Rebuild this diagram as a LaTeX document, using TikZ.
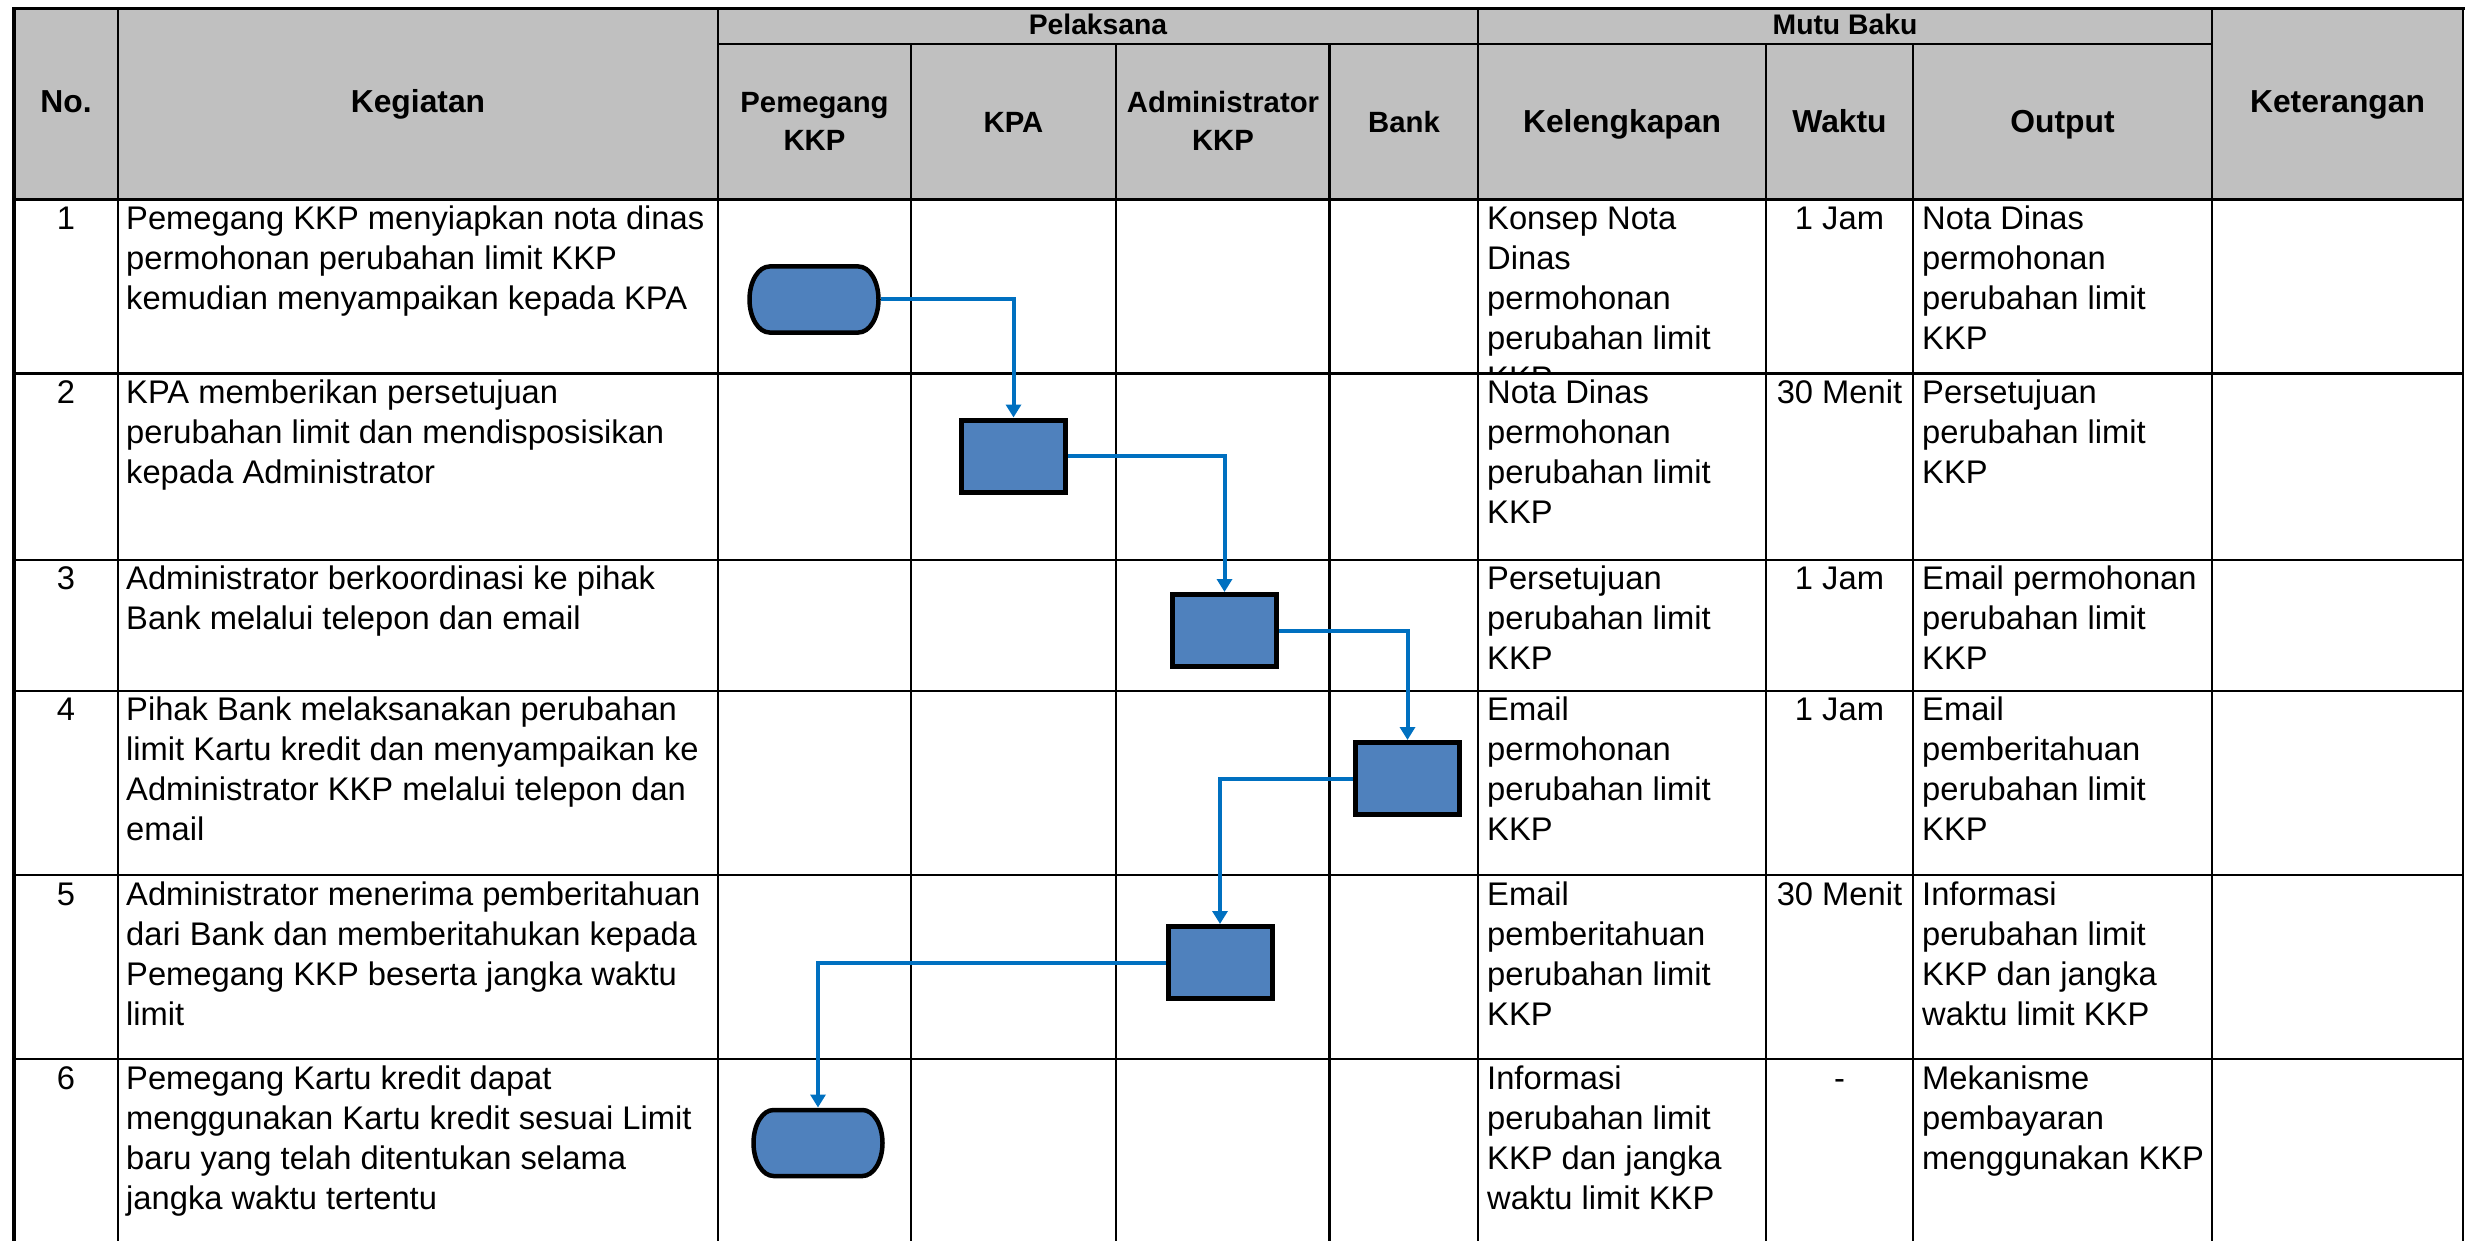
\documentclass[tikz,border=0pt]{standalone}
\usepackage{fontspec}
\setmainfont{Liberation Sans}
\usetikzlibrary{arrows.meta,calc}
\definecolor{hdrgray}{HTML}{C0C0C0}
\definecolor{boxblue}{HTML}{4F81BD}
\definecolor{flowblue}{HTML}{0070C0}
\newcommand\celllines[1]{\parbox[t]{700pt}{\raggedright #1}}
\newcommand\hdrlines[2]{\parbox[t]{#1}{\centering #2}}
\newcommand\termdraw[1]{\draw[termshape] ($(#1.center)+(-44.5pt,33pt)$) -- ($(#1.center)+(44.5pt,33pt)$) arc[start angle=90,end angle=-90,x radius=20pt,y radius=33pt] -- ($(#1.center)+(-44.5pt,-33pt)$) arc[start angle=270,end angle=90,x radius=20pt,y radius=33pt] -- cycle;}
\tikzset{
  gridline/.style={line width=2.8pt, black, line cap=rect},
  outerline/.style={line width=3.5pt, black, line cap=rect},
  hdr/.style={font=\fontsize{31.8}{38}\selectfont\bfseries, inner sep=0pt, anchor=base},
  hdrs/.style={font=\fontsize{29.3}{38}\selectfont\bfseries, inner sep=0pt, anchor=base},
  hdrt/.style={font=\fontsize{28.3}{38}\selectfont\bfseries, inner sep=0pt, anchor=base},
  body/.style={font=\fontsize{32.7}{40}\selectfont, inner sep=0pt, anchor=base west},
  num/.style={font=\fontsize{32.7}{40}\selectfont, inner sep=0pt, anchor=base},
  procbox/.style={rectangle, draw=black, line width=5pt, fill=boxblue, minimum width=104pt, minimum height=72pt, inner sep=0pt},
  termnode/.style={rectangle, draw=none, minimum width=134pt, minimum height=71pt, inner sep=0pt, outer sep=0pt},
  termshape/.style={draw=black, line width=4.5pt, fill=boxblue},
  flow/.style={draw=flowblue, line width=4pt, -{Triangle[width=15pt,length=13pt]}},
}
\begin{document}
\begin{tikzpicture}[x=1pt,y=-1pt]
\useasboundingbox (0,0) rectangle (2476,1241);
% header background
\fill[hdrgray] (14,8.5) rectangle (2463,199.5);

% header texts
\node[hdr] (hno) at (66,113) {No.};
\node[hdr] (hkeg) at (418,113) {Kegiatan};
\node[hdr] (hket) at (2337.5,113) {Keterangan};
\node[hdrt] (hpel) at (1098,35) {Pelaksana};
\node[hdrt] (hmutu) at (1845,35) {Mutu Baku};
\node[hdrs] (hpem) at (814.5,113) {\hdrlines{190pt}{Pemegang\\KKP}};
\node[hdrs] (hkpa) at (1013.5,133) {KPA};
\node[hdrs] (hadm) at (1223,113) {\hdrlines{210pt}{Administrator\\KKP}};
\node[hdrs] (hbank) at (1404,133) {Bank};
\node[hdr] (hkel) at (1622,133) {Kelengkapan};
\node[hdr] (hwak) at (1839.5,133) {Waktu};
\node[hdr] (hout) at (2062.5,133) {Output};

% row 1
\node[num] (n1) at (66,230) {1};
\node[body] (k1) at (126,230) {\celllines{Pemegang KKP menyiapkan nota dinas\\permohonan perubahan limit KKP\\kemudian menyampaikan kepada KPA}};
\begin{scope}
\clip (1478,199.5) rectangle (1766,373.5);
\node[body] (l1) at (1487,230) {\celllines{Konsep Nota\\Dinas\\permohonan\\perubahan limit\\KKP}};
\end{scope}
\node[num] (w1) at (1839.5,230) {1 Jam};
\node[body] (o1) at (1922,230) {\celllines{Nota Dinas\\permohonan\\perubahan limit\\KKP}};

% row 2
\node[num] (n2) at (66,403) {2};
\node[body] (k2) at (126,403) {\celllines{KPA memberikan persetujuan\\perubahan limit dan mendisposisikan\\kepada Administrator}};
\node[body] (l2) at (1487,403) {\celllines{Nota Dinas\\permohonan\\perubahan limit\\KKP}};
\node[num] (w2) at (1839.5,403) {30 Menit};
\node[body] (o2) at (1922,403) {\celllines{Persetujuan\\perubahan limit\\KKP}};

% row 3
\node[num] (n3) at (66,589) {3};
\node[body] (k3) at (126,589) {\celllines{Administrator berkoordinasi ke pihak\\Bank melalui telepon dan email}};
\node[body] (l3) at (1487,589) {\celllines{Persetujuan\\perubahan limit\\KKP}};
\node[num] (w3) at (1839.5,589) {1 Jam};
\node[body] (o3) at (1922,589) {\celllines{Email permohonan\\perubahan limit\\KKP}};

% row 4
\node[num] (n4) at (66,720) {4};
\node[body] (k4) at (126,720) {\celllines{Pihak Bank melaksanakan perubahan\\limit Kartu kredit dan menyampaikan ke\\Administrator KKP melalui telepon dan\\email}};
\node[body] (l4) at (1487,720) {\celllines{Email\\permohonan\\perubahan limit\\KKP}};
\node[num] (w4) at (1839.5,720) {1 Jam};
\node[body] (o4) at (1922,720) {\celllines{Email\\pemberitahuan\\perubahan limit\\KKP}};

% row 5
\node[num] (n5) at (66,905) {5};
\node[body] (k5) at (126,905) {\celllines{Administrator menerima pemberitahuan\\dari Bank dan memberitahukan kepada\\Pemegang KKP beserta jangka waktu\\limit}};
\node[body] (l5) at (1487,905) {\celllines{Email\\pemberitahuan\\perubahan limit\\KKP}};
\node[num] (w5) at (1839.5,905) {30 Menit};
\node[body] (o5) at (1922,905) {\celllines{Informasi\\perubahan limit\\KKP dan jangka\\waktu limit KKP}};

% row 6
\node[num] (n6) at (66,1089) {6};
\node[body] (k6) at (126,1089) {\celllines{Pemegang Kartu kredit dapat\\menggunakan Kartu kredit sesuai Limit\\baru yang telah ditentukan selama\\jangka waktu tertentu}};
\node[body] (l6) at (1487,1089) {\celllines{Informasi\\perubahan limit\\KKP dan jangka\\waktu limit KKP}};
\node[num] (w6) at (1839.5,1089) {-};
\node[body] (o6) at (1922,1089) {\celllines{Mekanisme\\pembayaran\\menggunakan KKP}};

% grid
\foreach \yy in {199.5,373.5,560,691,875,1059}
  \draw[gridline] (14,\yy) -- (2463,\yy);
\draw[gridline] (718,44) -- (2212,44);
\foreach \xx in {118,718,1478,2212}
  \draw[gridline] (\xx,8.5) -- (\xx,1241);
\foreach \xx in {911,1116,1329.5,1766,1913}
  \draw[gridline] (\xx,44) -- (\xx,1241);
\draw[gridline] (2463,8.5) -- (2463,1241);
\draw[outerline] (14,1241) -- (14,8.5) -- (2463,8.5);

% flow nodes
\node[termnode] (t1) at (814,299.5) {};
\node[procbox] (b2) at (1013.5,456) {};
\node[procbox] (b3) at (1224.5,630.5) {};
\node[procbox] (b4) at (1407.5,778.5) {};
\node[procbox] (b5) at (1220,962.5) {};
\node[termnode] (t6) at (818,1143) {};

% connectors
\draw[flow] (t1.east) -| (b2.north);
\draw[flow] (b2.east) -| (b3.north);
\draw[flow] (b3.east) -| (b4.north);
\draw[flow] (b4.west) -| (b5.north);
\draw[flow] (b5.west) -| (t6.north);

% redraw boxes on top
\node[procbox] at (b2.center) {};
\node[procbox] at (b3.center) {};
\node[procbox] at (b4.center) {};
\node[procbox] at (b5.center) {};
\termdraw{t1}
\termdraw{t6}
\end{tikzpicture}
\end{document}
